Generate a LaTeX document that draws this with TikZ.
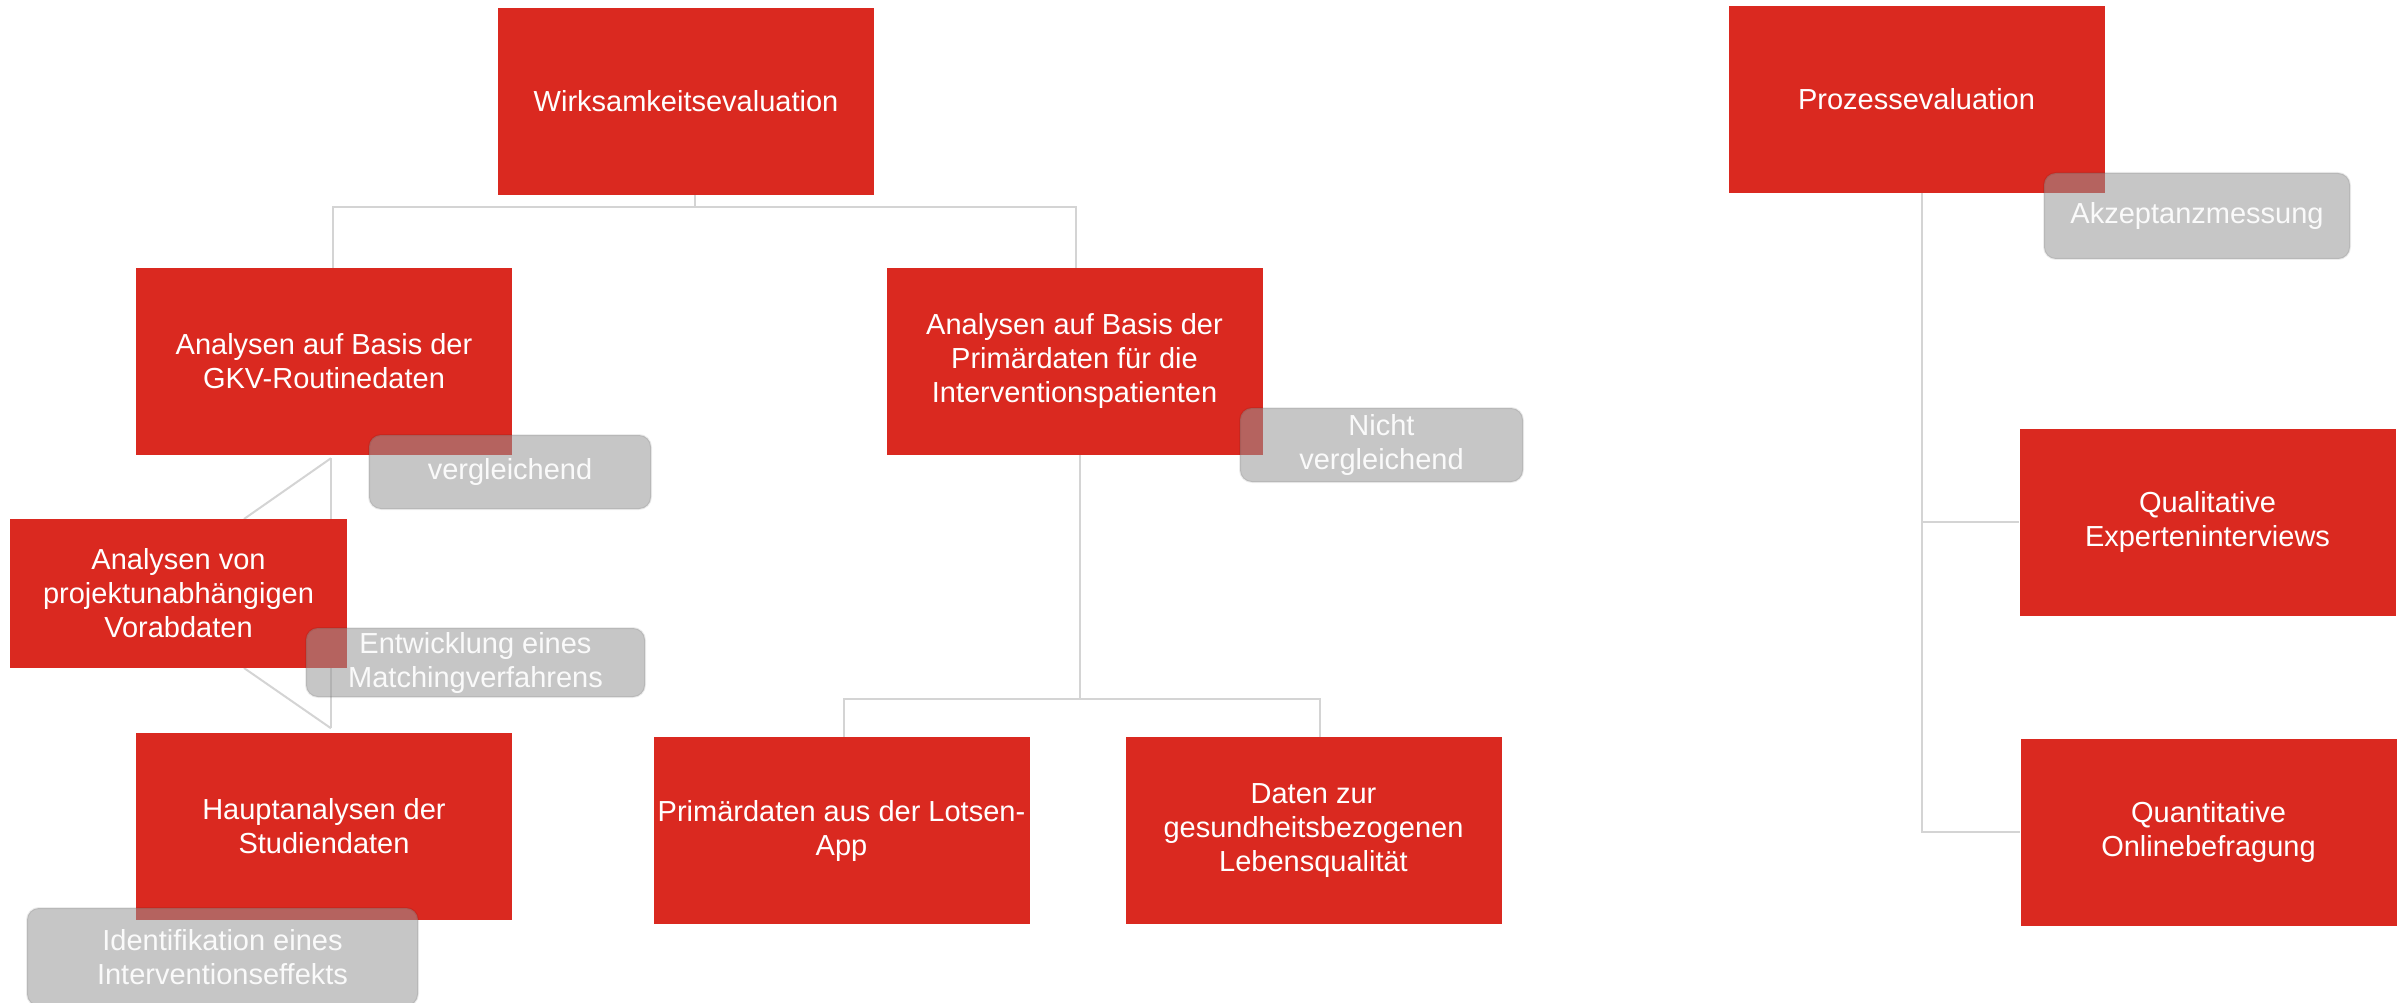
\documentclass[tikz,border=0pt]{standalone}
\usepackage{fontspec}
\setmainfont{Liberation Sans}
\usetikzlibrary{calc}
\definecolor{boxred}{RGB}{218,41,32}
\definecolor{linegray}{RGB}{212,212,212}
\definecolor{notegray}{RGB}{150,150,150}
\tikzset{
  redbox/.style={rectangle, fill=boxred, text=white, inner sep=0pt, align=center,
    minimum width=376pt, minimum height=187pt, font=\fontsize{29}{34}\selectfont},
  notebox/.style={rectangle, rounded corners=12pt, fill=notegray, fill opacity=0.54,
    draw=black, draw opacity=0.07, line width=2pt, text opacity=1, text=white!96!gray,
    inner sep=0pt, align=center, font=\fontsize{29}{34}\selectfont},
  conn/.style={draw=linegray, line width=2pt}
}
\begin{document}
\begin{tikzpicture}[x=1pt,y=-1pt]
\useasboundingbox (0,0) rectangle (2402,1003);
% red boxes
\node[redbox] (wirk) at (686,101.5) {Wirksamkeitsevaluation};
\node[redbox] (proz) at (1916.5,99.5) {Prozessevaluation};
\node[redbox] (gkv) at (324,361.5) {Analysen auf Basis der\\GKV-Routinedaten};
\node[redbox] (prim) at (1074.5,361.5) {Analysen auf Basis der\\Primärdaten für die\\Interventionspatienten};
\node[redbox] (haupt) at (324,826) {Hauptanalysen der\\Studiendaten};
\node[redbox] (lotsen) at (841.5,830.5) {Primärdaten aus der Lotsen-\\App};
\node[redbox] (daten) at (1313.5,830.5) {Daten zur\\gesundheitsbezogenen\\Lebensqualität};
\node[redbox] (qual) at (2207.5,522) {Qualitative\\Experteninterviews};
\node[redbox] (quant) at (2208.5,832) {Quantitative\\Onlinebefragung};
% connectors
\coordinate (wj) at (695,207);
\coordinate (gt) at ([xshift=7pt,yshift=-3pt]gkv.south);
\coordinate (gb) at ([xshift=7pt,yshift=4pt]haupt.north);
\coordinate (pj) at ([xshift=5.5pt]prim.south |- 0,699);
\coordinate (pb) at ([xshift=5.5pt]proz.south |- quant.west);
\draw[conn] (wirk.south -| wj) -- (wj);
\draw[conn] (wj) -| ([xshift=9pt]gkv.north);
\draw[conn] (wj) -| ([xshift=1.5pt]prim.north);
\draw[conn] (gt) -- (gb);
\draw[conn] (gt) -- ([xshift=-87pt]gt |- 0,519);
\draw[conn] ([xshift=-87pt]gt |- 0,668) -- (gb);
\draw[conn] ([xshift=5.5pt]prim.south) -- (pj);
\draw[conn] (pj) -| ([xshift=2.5pt]lotsen.north);
\draw[conn] (pj) -| ([xshift=6.5pt]daten.north);
\draw[conn] ([xshift=5.5pt]proz.south) -- (pb) -- (quant.west);
\draw[conn] (qual.west -| pb) -- (qual.west);
% box over the vertical line
\node[redbox, minimum width=337pt, minimum height=149pt] (vorab) at (178.5,593.5) {Analysen von\\projektunabhängigen\\Vorabdaten};
% notes
\node[notebox, minimum width=282pt, minimum height=74pt] (verg) at (510,472) {vergleichend};
\node[notebox, minimum width=339pt, minimum height=69pt] (match) at (475.5,662.5) {Entwicklung eines\\Matchingverfahrens};
\node[notebox, minimum width=391pt, minimum height=98pt] (ident) at (222.5,957) {Identifikation eines\\Interventionseffekts};
\node[notebox, minimum width=283pt, minimum height=74pt] (nicht) at (1381.5,445) {Nicht\\vergleichend};
\node[notebox, minimum width=306pt, minimum height=86pt] (akz) at (2197,216) {Akzeptanzmessung};
\end{tikzpicture}
\end{document}
